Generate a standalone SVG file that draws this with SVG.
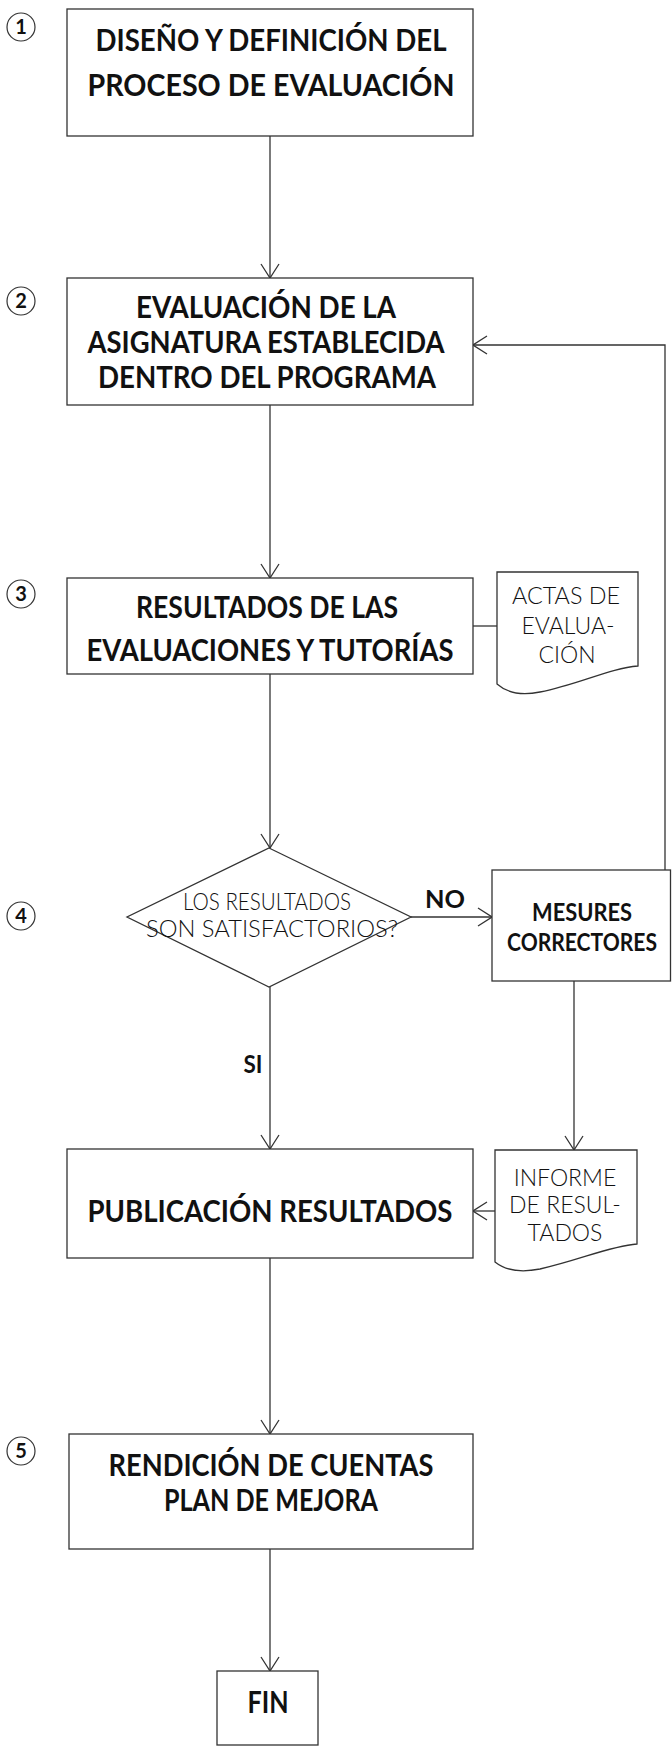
<svg xmlns="http://www.w3.org/2000/svg" width="672" height="1763" viewBox="0 0 672 1763">
<style>
.box{fill:#fff;stroke:#333;stroke-width:1.3}
.ln{fill:none;stroke:#333;stroke-width:1.3}
.arr{marker-end:url(#ah)}
.t{font-family:Lato,"Liberation Sans",sans-serif;font-weight:700;font-size:31px;fill:#111;text-anchor:middle}
.tm{font-family:Lato,"Liberation Sans",sans-serif;font-weight:700;font-size:25px;fill:#111;text-anchor:middle}
.tl{font-family:Lato,"Liberation Sans",sans-serif;font-weight:300;font-size:23px;fill:#111;text-anchor:middle}
.num{fill:#fff;stroke:#333;stroke-width:1.2}
.nt{font-family:Lato,"Liberation Sans",sans-serif;font-weight:700;font-size:20px;fill:#111;text-anchor:middle}
</style>
<defs>
<marker id="ah" markerUnits="userSpaceOnUse" viewBox="0 0 16 20" markerWidth="16" markerHeight="20" refX="15" refY="10" orient="auto">
<path d="M1,1 L15,10 L1,19" fill="none" stroke="#333" stroke-width="1.3"/>
</marker>
</defs>
<rect width="672" height="1763" fill="#fff"/>
<g id="connectors">
<line class="ln arr" x1="270" y1="136" x2="270" y2="278"/>
<line class="ln arr" x1="270" y1="405" x2="270" y2="578"/>
<line class="ln" x1="473" y1="626" x2="497" y2="626"/>
<line class="ln arr" x1="270" y1="674" x2="270" y2="848"/>
<line class="ln arr" x1="411" y1="917" x2="492" y2="917"/>
<polyline class="ln arr" points="665,870 665,345 473,345"/>
<line class="ln arr" x1="270" y1="987" x2="270" y2="1149"/>
<line class="ln arr" x1="574" y1="981" x2="574" y2="1150"/>
<line class="ln arr" x1="495" y1="1211" x2="473" y2="1211"/>
<line class="ln arr" x1="270" y1="1258" x2="270" y2="1434"/>
<line class="ln arr" x1="270" y1="1549" x2="270" y2="1671"/>
<text class="tm" x="445" y="908" textLength="40" lengthAdjust="spacingAndGlyphs">NO</text>
<text class="tm" x="253" y="1073" textLength="19" lengthAdjust="spacingAndGlyphs">SI</text>
</g>
<g id="step1"><circle class="num" cx="21" cy="27" r="14"/><text class="nt" x="21" y="34">1</text></g>
<g id="step2"><circle class="num" cx="21" cy="301" r="14"/><text class="nt" x="21" y="308">2</text></g>
<g id="step3"><circle class="num" cx="21" cy="594" r="14"/><text class="nt" x="21" y="601">3</text></g>
<g id="step4"><circle class="num" cx="21" cy="916" r="14"/><text class="nt" x="21" y="923">4</text></g>
<g id="step5"><circle class="num" cx="21" cy="1451" r="14"/><text class="nt" x="21" y="1458">5</text></g>
<g id="n1"><rect class="box" x="67" y="9" width="406" height="127"/>
<text class="t" x="271" y="51" textLength="351" lengthAdjust="spacingAndGlyphs">DISEÑO Y DEFINICIÓN DEL</text>
<text class="t" x="271" y="96" textLength="367" lengthAdjust="spacingAndGlyphs">PROCESO DE EVALUACIÓN</text></g>
<g id="n2"><rect class="box" x="67" y="278" width="406" height="127"/>
<text class="t" x="266" y="318" textLength="260" lengthAdjust="spacingAndGlyphs">EVALUACIÓN DE LA</text>
<text class="t" x="266" y="353" textLength="357" lengthAdjust="spacingAndGlyphs">ASIGNATURA ESTABLECIDA</text>
<text class="t" x="267" y="388" textLength="338" lengthAdjust="spacingAndGlyphs">DENTRO DEL PROGRAMA</text></g>
<g id="n3"><rect class="box" x="67" y="578" width="406" height="96"/>
<text class="t" x="267" y="618" textLength="262" lengthAdjust="spacingAndGlyphs">RESULTADOS DE LAS</text>
<text class="t" x="270" y="661" textLength="367" lengthAdjust="spacingAndGlyphs">EVALUACIONES Y TUTORÍAS</text></g>
<g id="actas"><path class="box" d="M497,572 H638 V666 C610,668 580,684 540,692 C520,696 506,692 497,684 Z"/>
<text class="tl" x="566" y="604" textLength="108" lengthAdjust="spacingAndGlyphs">ACTAS DE</text>
<text class="tl" x="568" y="634">EVALUA-</text>
<text class="tl" x="567" y="663">CIÓN</text></g>
<g id="n4"><polygon class="box" points="269,848 411,917 269,987 127,917"/>
<text class="tl" x="267" y="910" textLength="168" lengthAdjust="spacingAndGlyphs">LOS RESULTADOS</text>
<text class="tl" x="272" y="937" textLength="252" lengthAdjust="spacingAndGlyphs">SON SATISFACTORIOS?</text></g>
<g id="mesures"><rect class="box" x="492" y="870" width="178.5" height="111"/>
<text class="tm" x="582" y="921" textLength="100" lengthAdjust="spacingAndGlyphs">MESURES</text>
<text class="tm" x="582" y="951" textLength="150" lengthAdjust="spacingAndGlyphs">CORRECTORES</text></g>
<g id="n5"><rect class="box" x="67" y="1149" width="406" height="109"/>
<text class="t" x="270" y="1222" textLength="365" lengthAdjust="spacingAndGlyphs">PUBLICACIÓN RESULTADOS</text></g>
<g id="informe"><path class="box" d="M495,1150 H637 V1244 C610,1246 580,1260 540,1269 C520,1273 505,1270 495,1262 Z"/>
<text class="tl" x="565" y="1186">INFORME</text>
<text class="tl" x="565" y="1213">DE RESUL-</text>
<text class="tl" x="565" y="1241">TADOS</text></g>
<g id="n6"><rect class="box" x="69" y="1434" width="404" height="115"/>
<text class="t" x="271" y="1476" textLength="325" lengthAdjust="spacingAndGlyphs">RENDICIÓN DE CUENTAS</text>
<text class="t" x="271" y="1511" textLength="214" lengthAdjust="spacingAndGlyphs">PLAN DE MEJORA</text></g>
<g id="fin"><rect class="box" x="217" y="1671" width="101" height="74"/>
<text class="t" x="268" y="1713" textLength="41" lengthAdjust="spacingAndGlyphs">FIN</text></g>
</svg>
